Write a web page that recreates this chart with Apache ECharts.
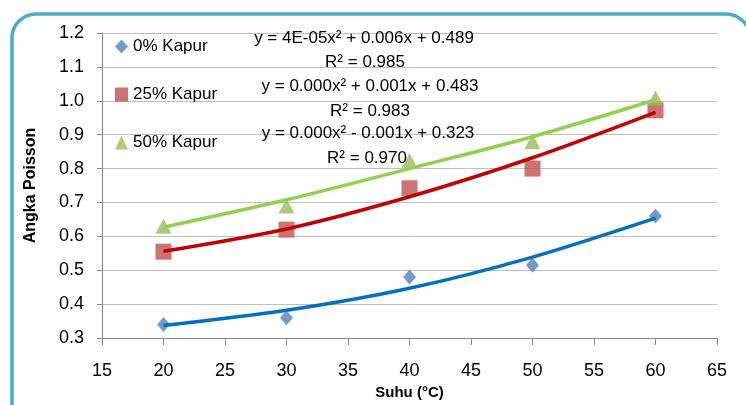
<!DOCTYPE html>
<html>
<head>
<meta charset="utf-8">
<script src="https://cdn.jsdelivr.net/npm/echarts@6/dist/echarts.min.js"></script>
<style>
html, body { margin: 0; padding: 0; background: #fff; }
#chart { width: 746px; height: 405px; }
</style>
</head>
<body>
<div id="chart"></div>
<script>
// Suhu (°C)
var suhu = [20, 30, 40, 50, 60];
// nilai angka Poisson terukur
var kapur0 = [0.34, 0.36, 0.48, 0.515, 0.66];
var kapur25 = [0.555, 0.62, 0.742, 0.80, 0.972];
var kapur50 = [0.63, 0.69, 0.823, 0.88, 1.008];
// garis trend
var trend0 = [0.337, 0.382, 0.447, 0.539, 0.654];
var trend25 = [0.556, 0.622, 0.717, 0.832, 0.966];
var trend50 = [0.627, 0.708, 0.800, 0.894, 1.003];
var persamaan = [
	'y = 4E-05x² + 0.006x + 0.489',
	'R² = 0.985',
	'y = 0.000x² + 0.001x + 0.483',
	'R² = 0.983',
	'y = 0.000x² - 0.001x + 0.323',
	'R² = 0.970'
];
var posPersamaan = [[364, 38], [365, 62], [370, 86], [370, 111], [368, 133], [367, 158]];

function pasang(xs, ys) {
	return xs.map(function (x, i) { return [x, ys[i]]; });
}

var font = 'Liberation Sans';
var myChart = echarts.init(document.getElementById('chart'));

var graphics = [{
	type: 'rect',
	shape: { x: 12, y: 14, width: 738, height: 430, r: 24 },
	style: { fill: 'none', stroke: '#4bacc6', lineWidth: 3.5 },
	silent: true
}];
persamaan.forEach(function (t, i) {
	graphics.push({
		type: 'text',
		x: posPersamaan[i][0],
		y: posPersamaan[i][1],
		style: {
			text: t,
			font: '17px "' + font + '"',
			fill: '#000',
			textAlign: 'center',
			textVerticalAlign: 'middle'
		},
		z: 100
	});
});

var option = {
	backgroundColor: '#fff',
	animation: false,
	grid: { left: 102, right: 29, top: 33, bottom: 57 },
	legend: {
		orient: 'vertical',
		left: 110,
		top: 33,
		itemGap: 31,
		itemWidth: 13,
		itemHeight: 14,
		textStyle: { fontFamily: font, fontSize: 17, color: '#000' },
		data: ['0% Kapur', '25% Kapur', '50% Kapur']
	},
	xAxis: {
		type: 'value',
		min: 15,
		max: 65,
		interval: 5,
		name: 'Suhu (°C)',
		nameLocation: 'middle',
		nameGap: 42,
		nameTextStyle: { fontFamily: font, fontSize: 15, fontWeight: 'bold', color: '#000' },
		axisLine: { lineStyle: { color: '#868686' } },
		axisTick: { length: 7, lineStyle: { color: '#868686' } },
		axisLabel: { fontFamily: font, fontSize: 18, color: '#000', margin: 24 },
		splitLine: { show: false }
	},
	yAxis: {
		type: 'value',
		min: 0.3,
		max: 1.2,
		interval: 0.1,
		name: 'Angka Poisson',
		nameLocation: 'middle',
		nameGap: 63,
		nameTextStyle: { fontFamily: font, fontSize: 16, fontWeight: 'bold', color: '#000' },
		axisLine: { show: true, lineStyle: { color: '#868686' } },
		axisTick: { show: true, length: 5, lineStyle: { color: '#868686' } },
		axisLabel: {
			fontFamily: font, fontSize: 18, color: '#000', margin: 18,
			formatter: function (v) { return v.toFixed(1); }
		},
		splitLine: { lineStyle: { color: '#bfbfbf' } }
	},
	series: [{
		name: '0% Kapur',
		type: 'scatter',
		symbol: 'diamond',
		symbolSize: [13, 15],
		itemStyle: { color: '#4f81bd' },
		data: pasang(suhu, kapur0),
		z: 2
	}, {
		name: '25% Kapur',
		type: 'scatter',
		symbol: 'rect',
		symbolSize: 16,
		itemStyle: { color: '#c0504d' },
		data: pasang(suhu, kapur25),
		z: 2
	}, {
		name: '50% Kapur',
		type: 'scatter',
		symbol: 'triangle',
		symbolSize: [16, 15],
		itemStyle: { color: '#9bbb59' },
		data: pasang(suhu, kapur50),
		z: 2
	}, {
		name: 'trend 0',
		type: 'line',
		smooth: 0.3,
		showSymbol: false,
		lineStyle: { color: '#0070c0', width: 3.5 },
		data: pasang(suhu, trend0),
		z: 3
	}, {
		name: 'trend 25',
		type: 'line',
		smooth: 0.3,
		showSymbol: false,
		lineStyle: { color: '#c00000', width: 3.5 },
		data: pasang(suhu, trend25),
		z: 3
	}, {
		name: 'trend 50',
		type: 'line',
		smooth: 0.3,
		showSymbol: false,
		lineStyle: { color: '#92d050', width: 3.5 },
		data: pasang(suhu, trend50),
		z: 3
	}],
	graphic: graphics
};

myChart.setOption(option);

window.onresize = function () {
	myChart.resize();
};
</script>
</body>
</html>
